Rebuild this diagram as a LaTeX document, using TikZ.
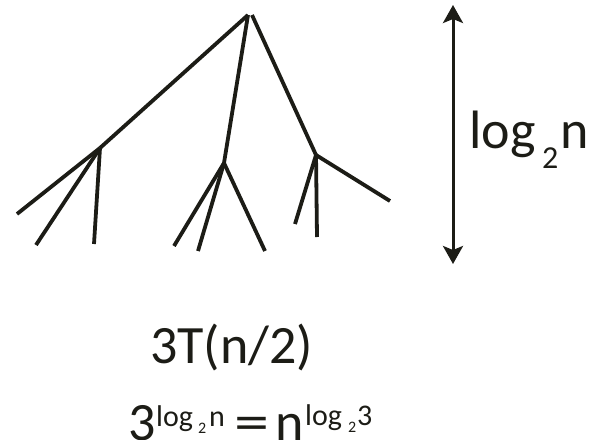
\documentclass[tikz,border=0pt]{standalone}
\usepackage{fontspec}
\setmainfont{Carlito}
\usetikzlibrary{arrows.meta}
\definecolor{ink}{HTML}{1C1C16}
\tikzset{
  branch/.style={draw=ink, line width=3.8pt, line cap=butt},
  txt/.style={inner sep=0pt, anchor=base west, text=ink},
  big/.style={txt, font=\fontsize{54}{54}\selectfont},
  sup/.style={txt, font=\fontsize{30}{30}\selectfont},
  tiny/.style={txt, font=\fontsize{16}{16}\selectfont},
}
\begin{document}
\begin{tikzpicture}[x=1pt,y=-1pt]
\useasboundingbox (0,0) rectangle (594,439);
\clip (0,0) rectangle (594,439);
% tree coordinates
\coordinate (rl) at (248,15);
\coordinate (rr) at (252,15);
\coordinate (A) at (100,148);
\coordinate (B) at (224,163);
\coordinate (C) at (316,155);
\coordinate (a1) at (17,214);
\coordinate (a2) at (36,245);
\coordinate (a3) at (94,244);
\coordinate (b1) at (174,246);
\coordinate (b2) at (198,251);
\coordinate (b3) at (265,251);
\coordinate (c1) at (295,224);
\coordinate (c2) at (317,237);
\coordinate (c3) at (390,201);
\draw[branch] (rl) -- (A);
\draw[branch] (rl) -- (B);
\draw[branch] (rr) -- (C);
\draw[branch] (A) -- (a1);
\draw[branch] (A) -- (a2);
\draw[branch] (A) -- (a3);
\draw[branch] (B) -- (b1);
\draw[branch] (B) -- (b2);
\draw[branch] (B) -- (b3);
\draw[branch] (C) -- (c1);
\draw[branch] (C) -- (c2);
\draw[branch] (C) -- (c3);
% height arrow
\coordinate (top) at (453,5);
\coordinate (bot) at (453,264);
\draw[draw=ink, line width=3pt, {Stealth[length=18pt,width=20pt,inset=4pt]}-{Stealth[length=18pt,width=20pt,inset=4pt]}] (top) -- (bot);
\node[big] (lg) at (469,148) {log};
\node[txt, font=\fontsize{32}{32}\selectfont] (lgsub) at (542,168) {2};
\node[big] (lgn) at (560,148) {n};
% recurrence
\node[big] (rec) at (150,363) {3T(n/2)};
% identity
\node[big] (three) at (128,440) {3};
\node[sup] (s1) at (156,426) {log};
\node[tiny] (s1sub) at (198,433) {2};
\node[sup] (s1n) at (209,426) {n};
\node[big] (eq) at (234,440) {\scalebox{1.3}[1]{=}};
\node[big] (nn) at (275,440) {n};
\node[sup] (s2) at (305,425) {log};
\node[tiny] (s2sub) at (348,432) {2};
\node[sup] (s2n) at (357,425) {3};
\end{tikzpicture}
\end{document}
